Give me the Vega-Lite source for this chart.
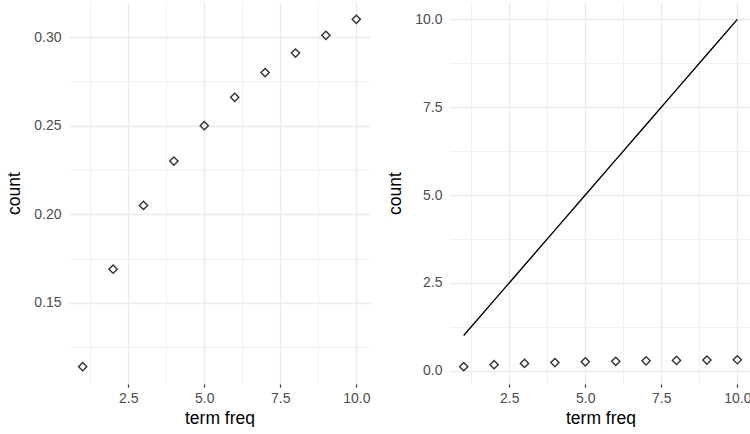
{
  "$schema": "https://vega.github.io/schema/vega-lite/v6.json",
  "padding": {"left": 5, "top": 2, "right": 0, "bottom": 0},
  "spacing": 16,
  "config": {
    "view": {"stroke": null},
    "font": "Liberation Sans",
    "axis": {
      "domain": false,
      "labelColor": "#4d4d4d",
      "labelFontSize": 14,
      "titleFontSize": 17.5,
      "titleColor": "#000000",
      "titleFontWeight": "normal",
      "gridColor": "#ebebeb"
    }
  },
  "data": {
    "values": [
      {"tf": 1, "count": 0.114, "ref": 1},
      {"tf": 2, "count": 0.169, "ref": 2},
      {"tf": 3, "count": 0.205, "ref": 3},
      {"tf": 4, "count": 0.230, "ref": 4},
      {"tf": 5, "count": 0.250, "ref": 5},
      {"tf": 6, "count": 0.266, "ref": 6},
      {"tf": 7, "count": 0.280, "ref": 7},
      {"tf": 8, "count": 0.291, "ref": 8},
      {"tf": 9, "count": 0.301, "ref": 9},
      {"tf": 10, "count": 0.310, "ref": 10}
    ]
  },
  "hconcat": [
    {
      "width": 301,
      "height": 382,
      "mark": {"type": "point", "shape": "diamond", "filled": false, "stroke": "#333333", "strokeWidth": 1.4, "size": 68, "opacity": 1},
      "encoding": {
        "x": {
          "field": "tf", "type": "quantitative", "title": "term freq",
          "scale": {"domain": [0.55, 10.45], "nice": false, "zero": false},
          "axis": {
            "values": [1.25, 2.5, 3.75, 5, 6.25, 7.5, 8.75, 10],
            "format": ".1f",
            "labelExpr": "abs(datum.value/2.5 - round(datum.value/2.5)) < 0.000001 ? datum.label : ''",
            "gridWidth": {"condition": {"test": "abs(datum.value/2.5 - round(datum.value/2.5)) < 0.000001", "value": 1.4}, "value": 0.7},
            "ticks": true, "tickSize": 3, "tickColor": "#333333", "tickWidth": 1.2,
            "tickOpacity": {"condition": {"test": "abs(datum.value/2.5 - round(datum.value/2.5)) < 0.000001", "value": 1}, "value": 0},
            "labelPadding": 4, "titlePadding": 4
          }
        },
        "y": {
          "field": "count", "type": "quantitative", "title": "count",
          "scale": {"domain": [0.1042, 0.3198], "nice": false, "zero": false},
          "axis": {
            "values": [0.125, 0.15, 0.175, 0.2, 0.225, 0.25, 0.275, 0.3],
            "format": ".2f",
            "labelExpr": "abs(datum.value*20 - round(datum.value*20)) < 0.000001 ? datum.label : ''",
            "gridWidth": {"condition": {"test": "abs(datum.value*20 - round(datum.value*20)) < 0.000001", "value": 1.4}, "value": 0.7},
            "ticks": false, "tickSize": 0,
            "labelPadding": 8, "titlePadding": 10
          }
        }
      }
    },
    {
      "width": 301,
      "height": 382,
      "layer": [
        {
          "mark": {"type": "line", "color": "#000000", "strokeWidth": 1.4},
          "encoding": {
            "x": {"field": "tf", "type": "quantitative"},
            "y": {"field": "ref", "type": "quantitative"}
          }
        },
        {
          "mark": {"type": "point", "shape": "diamond", "filled": false, "stroke": "#333333", "strokeWidth": 1.4, "size": 68, "opacity": 1},
          "encoding": {
            "x": {"field": "tf", "type": "quantitative"},
            "y": {"field": "count", "type": "quantitative"}
          }
        }
      ],
      "encoding": {
        "x": {
          "field": "tf", "type": "quantitative", "title": "term freq",
          "scale": {"domain": [0.55, 10.45], "nice": false, "zero": false},
          "axis": {
            "values": [1.25, 2.5, 3.75, 5, 6.25, 7.5, 8.75, 10],
            "format": ".1f",
            "labelExpr": "abs(datum.value/2.5 - round(datum.value/2.5)) < 0.000001 ? datum.label : ''",
            "gridWidth": {"condition": {"test": "abs(datum.value/2.5 - round(datum.value/2.5)) < 0.000001", "value": 1.4}, "value": 0.7},
            "ticks": true, "tickSize": 3, "tickColor": "#333333", "tickWidth": 1.2,
            "tickOpacity": {"condition": {"test": "abs(datum.value/2.5 - round(datum.value/2.5)) < 0.000001", "value": 1}, "value": 0},
            "labelPadding": 4, "titlePadding": 4
          }
        },
        "y": {
          "type": "quantitative", "title": "count",
          "scale": {"domain": [-0.38, 10.494], "nice": false, "zero": false},
          "axis": {
            "values": [0, 1.25, 2.5, 3.75, 5, 6.25, 7.5, 8.75, 10],
            "format": ".1f",
            "labelExpr": "abs(datum.value/2.5 - round(datum.value/2.5)) < 0.000001 ? datum.label : ''",
            "gridWidth": {"condition": {"test": "abs(datum.value/2.5 - round(datum.value/2.5)) < 0.000001", "value": 1.4}, "value": 0.7},
            "ticks": false, "tickSize": 0,
            "labelPadding": 8, "titlePadding": 10
          }
        }
      }
    }
  ]
}
